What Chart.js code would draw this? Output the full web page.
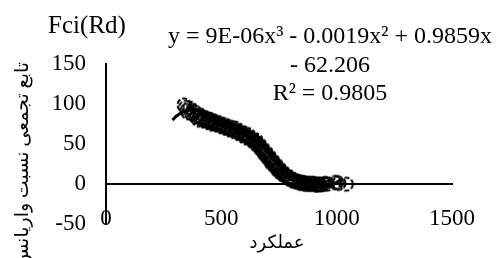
<!DOCTYPE html>
<html>
<head>
<meta charset="utf-8">
<script src="https://cdn.jsdelivr.net/npm/chart.js@4/dist/chart.umd.min.js"></script>
<style>
html, body { margin: 0; padding: 0; background: #fff; }
</style>
</head>
<body>
<canvas id="chart" width="496" height="258"></canvas>
<script>
/////////////////////////////// data //////////////////////////////////

const pointX = [338, 352, 362, 372, 384, 395, 402, 412, 422, 430, 441, 450, 458, 468, 478, 487,
    496, 505, 515, 524, 533, 542, 551, 560, 569, 578, 588, 597, 606, 615, 624, 633,
    642, 650, 657, 664, 671, 678, 686, 693, 700, 707, 714, 721, 728, 735, 742, 750,
    757, 764, 772, 780, 788, 796, 804, 812, 821, 830, 839, 848, 857, 866, 875, 885,
    895, 905, 915, 925, 938, 950, 990, 1010, 1042,
    345, 357, 378, 390, 407, 417, 426, 436, 446, 455, 463, 473, 483, 492, 500, 510,
    520, 529, 538, 547, 556, 565, 574, 583, 592, 601, 611, 620, 629, 637, 646, 654,
    661, 668, 675, 682, 689, 697, 704, 711, 718, 725, 732, 739, 746, 753, 761, 768,
    776, 784, 792, 800, 808, 817, 826, 835, 844, 853, 862, 871, 880, 890, 900, 910,
    920, 930, 944, 960, 1000];
const pointY = [99, 92, 95, 88, 90, 85, 80, 86, 79, 83, 77, 81, 75, 79, 74, 77,
    72, 75, 70, 73, 68, 71, 66, 70, 64, 67, 61, 64, 58, 62, 56, 58,
    52, 55, 48, 50, 44, 45, 39, 40, 34, 35, 29, 30, 24, 25, 20, 20,
    15, 16, 11, 12, 8, 9, 5, 6, 3, 4, 2, 2, 1, 1, 0, 1,
    0, 0, -1, 0, 0, 1, 2, 1, 0,
    96, 89, 92, 84, 83, 82, 80, 79, 78, 77, 77, 76, 75, 74, 73, 72,
    71, 70, 69, 68, 67, 66, 65, 64, 62, 61, 60, 58, 57, 55, 53, 51,
    49, 46, 43, 41, 37, 36, 32, 31, 26, 27, 22, 22, 17, 18, 13, 13,
    10, 10, 7, 6, 4, 4, 3, 2, 1, 2, 0, 1, 0, 0, 1, -1,
    0, -1, 0, 0, 2];

const trendX = [288, 310, 340, 380, 420, 460, 500, 550, 600, 650, 700, 750, 800, 850, 900, 950, 990, 1020];
const trendY = [80, 86, 91, 93, 91, 87, 81, 73, 64, 54, 41, 27, 14, 4, -1, -2, 1, 6];

const xTicks = [0, 500, 1000, 1500];
const yTicks = [-50, 0, 50, 100, 150];

const chartTitle = 'Fci(Rd)';
const equationLines = ['y = 9E-06x³ - 0.0019x² + 0.9859x', '- 62.206', 'R² = 0.9805'];
const xTitle = 'عملکرد';
const yTitle = 'تابع تجمعی نسبت واریانس';

/////////////////////////////// drawing //////////////////////////////////

const serif = "'Liberation Serif', 'Times New Roman', 'DejaVu Sans', serif";

// dashed hollow circle used as the marker
const marker = document.createElement('canvas');
marker.width = 18;
marker.height = 18;
(() => {
    const m = marker.getContext('2d');
    m.strokeStyle = '#000';
    m.lineWidth = 2;
    m.setLineDash([5, 2]);
    m.beginPath();
    m.arc(9, 9, 6.5, 0, Math.PI * 2);
    m.stroke();
})();

const textPlugin = {
    id: 'texts',
    afterDraw(chart) {
        const ctx = chart.ctx;
        ctx.save();
        ctx.fillStyle = '#000';
        ctx.textBaseline = 'alphabetic';
        ctx.textAlign = 'center';

        ctx.font = '25px ' + serif;
        ctx.fillText(chartTitle, 87, 33);

        ctx.font = '24px ' + serif;
        const baselines = [43, 72, 100];
        equationLines.forEach((line, i) => ctx.fillText(line, 330, baselines[i]));

        ctx.font = '18px ' + serif;
        ctx.fillText(xTitle, 277, 248);

        ctx.font = '19px ' + serif;
        ctx.translate(28, 62);
        ctx.rotate(-Math.PI / 2);
        ctx.textAlign = 'right';
        ctx.fillText(yTitle, 0, 0);
        ctx.restore();
    }
};

var ctx = document.getElementById('chart').getContext('2d');

new Chart(ctx, {
    type: 'scatter',
    data: {
        datasets: [
            {
                type: 'line',
                label: 'trend',
                data: trendX.map((x, i) => ({ x: x, y: trendY[i] })),
                borderColor: '#000',
                borderWidth: 3,
                pointRadius: 0,
                tension: 0.4,
                fill: false,
                order: 0
            },
            {
                label: 'Fci(Rd)',
                data: pointX.map((x, i) => ({ x: x, y: pointY[i] })),
                pointStyle: marker,
                pointRadius: 7,
                order: 1
            }
        ]
    },
    options: {
        responsive: false,
        animation: false,
        layout: {
            padding: { top: 64, right: 42, bottom: 28, left: 0 }
        },
        scales: {
            x: {
                type: 'linear',
                position: { y: 0 },
                min: xTicks[0],
                max: xTicks[xTicks.length - 1],
                afterBuildTicks: scale => { scale.ticks = xTicks.map(v => ({ value: v })); },
                grid: { display: false, drawTicks: false },
                border: { display: true, color: '#000', width: 2 },
                ticks: {
                    color: '#000',
                    padding: 21,
                    maxRotation: 0,
                    callback: v => String(v),
                    font: { family: serif, size: 23 }
                }
            },
            y: {
                type: 'linear',
                position: 'left',
                min: yTicks[0],
                max: yTicks[yTicks.length - 1],
                afterBuildTicks: scale => { scale.ticks = yTicks.map(v => ({ value: v })); },
                afterFit: scale => { scale.width = 106; },
                grid: { display: false, drawTicks: false },
                border: { display: true, color: '#000', width: 2 },
                ticks: {
                    color: '#000',
                    padding: 20,
                    callback: v => String(v),
                    font: { family: serif, size: 23 }
                }
            }
        },
        plugins: {
            legend: { display: false },
            tooltip: { enabled: false }
        }
    },
    plugins: [textPlugin]
});
</script>
</body>
</html>
